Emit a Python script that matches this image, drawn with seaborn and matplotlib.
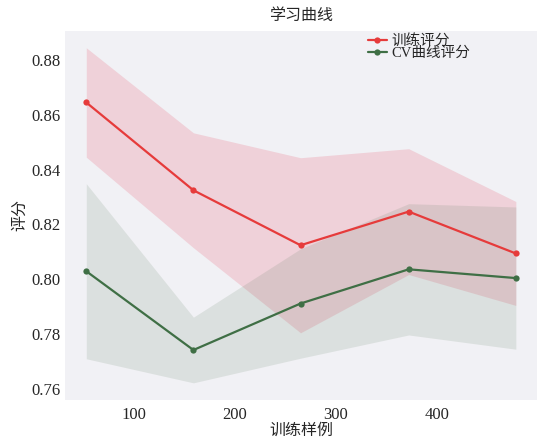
import numpy as np
import pandas as pd
import matplotlib
matplotlib.use("Agg")
import matplotlib.pyplot as plt
import seaborn as sns

# learning-curve results: sample counts, mean score and spread per size
train_sizes = [53, 159, 265, 372, 478]
train_mean = [0.8646, 0.8325, 0.8124, 0.8247, 0.8094]
train_std = [0.020, 0.021, 0.032, 0.023, 0.019]
cv_mean = [0.8029, 0.7741, 0.7911, 0.8036, 0.8004]
cv_std = [0.032, 0.012, 0.020, 0.024, 0.026]

title = "学习曲线"
x_label = "训练样例"
y_label = "评分"
train_label = "训练评分"
cv_label = "CV曲线评分"

sns.set_theme(style="white")
plt.rcParams["font.family"] = ["Liberation Serif", "Noto Sans CJK SC", "DejaVu Sans"]
plt.rcParams["axes.unicode_minus"] = False

fig, ax = plt.subplots(figsize=(5.4, 4.43), dpi=100)
fig.patch.set_facecolor("white")
ax.set_facecolor("#f1f1f5")
fig.subplots_adjust(left=0.12, right=0.995, top=0.93, bottom=0.098)

sizes = np.array(train_sizes)
tm, ts = np.array(train_mean), np.array(train_std)
cm, cs = np.array(cv_mean), np.array(cv_std)

ax.fill_between(sizes, tm - ts, tm + ts, color="#e8415a", alpha=0.18, linewidth=0)
ax.fill_between(sizes, cm - cs, cm + cs, color="#5a7a5a", alpha=0.14, linewidth=0)

df = pd.DataFrame({
    "size": np.concatenate([sizes, sizes]),
    "score": np.concatenate([tm, cm]),
    "kind": [train_label] * len(sizes) + [cv_label] * len(sizes),
})
sns.lineplot(data=df, x="size", y="score", hue="kind",
             palette={train_label: "#e63b3b", cv_label: "#3f6f45"},
             marker="o", markersize=4.5, markeredgewidth=0, linewidth=1.6, ax=ax)

ax.set_title(title, fontsize=11.5, pad=8)
ax.set_xlabel(x_label, fontsize=11.5, labelpad=0)
ax.set_ylabel(y_label, fontsize=11.5, labelpad=2)
ax.set_xticks([100, 200, 300, 400])
ax.set_yticks([0.76, 0.78, 0.80, 0.82, 0.84, 0.86, 0.88])
ax.set_yticklabels([f"{v:.2f}" for v in [0.76, 0.78, 0.80, 0.82, 0.84, 0.86, 0.88]])
ax.tick_params(axis="x", labelsize=12, length=0, pad=5)
ax.tick_params(axis="y", labelsize=12, length=0, pad=3)
for s in ax.spines.values():
    s.set_visible(False)

leg = ax.legend(loc="upper left", bbox_to_anchor=(0.62, 1.02), frameon=False,
                fontsize=10.5, handlelength=1.3, handletextpad=0.3,
                labelspacing=-0.1, borderpad=0.2)

fig.savefig("out.png", dpi=100)
